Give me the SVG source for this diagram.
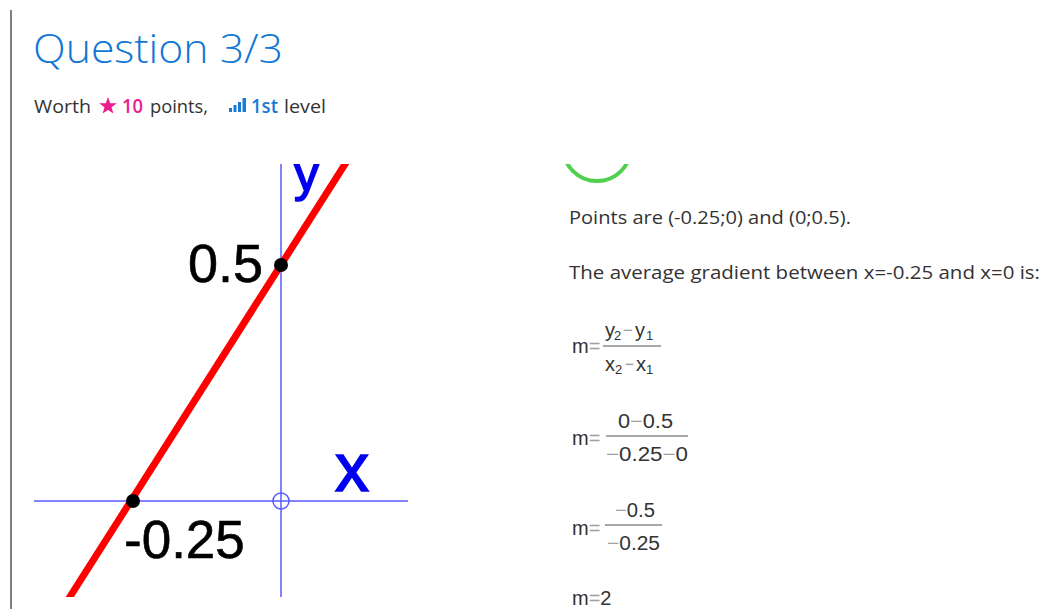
<svg xmlns="http://www.w3.org/2000/svg" width="1047" height="609" viewBox="0 0 1047 609">
<style>
.ui{font-family:"Open Sans","Noto Sans","Liberation Sans",sans-serif;}
.body{font-size:18px;fill:#333333;}
.math{font-family:"Liberation Sans",Arial,sans-serif;font-size:20px;fill:#333333;}
.sub{font-size:13px;}
.op{fill:#a0a0a0;}
.bar{stroke:#8a8a8a;stroke-width:1.6;}
.axis{stroke:#5a5aff;stroke-width:1.5;fill:none;}
.lbl{font-family:"Liberation Sans",Arial,sans-serif;fill:#000000;stroke:#000000;stroke-width:0.6;}
.axlbl{font-family:"Liberation Sans",Arial,sans-serif;fill:#0000ee;stroke:#0000ee;stroke-width:1.6;}
</style>
<defs>
<clipPath id="clipTop"><rect x="0" y="164" width="1047" height="433"/></clipPath>
</defs>
<rect width="1047" height="609" fill="#ffffff"/>
<line x1="11" y1="10" x2="11" y2="609" stroke="#555555" stroke-width="1.5"/>

<g id="header">
<text class="ui" x="33" y="63" font-size="40" font-weight="300" fill="#1177d3" textLength="250" lengthAdjust="spacingAndGlyphs">Question 3/3</text>
<text class="ui body" x="34" y="113" font-size="19" textLength="57" lengthAdjust="spacingAndGlyphs">Worth</text>
<polygon points="108,97 110.2,103.2 116.8,103.3 111.5,107.3 113.4,113.6 108,109.9 102.6,113.6 104.5,107.3 99.2,103.3 105.8,103.2" fill="#ec1c8e"/>
<text class="ui" x="122" y="113" font-size="19" font-weight="600" fill="#ec1c8e" textLength="21" lengthAdjust="spacingAndGlyphs">10</text>
<text class="ui body" x="150" y="113" font-size="19" textLength="58" lengthAdjust="spacingAndGlyphs">points,</text>
<g fill="#1a7bd6">
<rect x="229" y="108" width="3" height="4"/>
<rect x="233.5" y="105" width="3" height="7"/>
<rect x="238" y="102" width="3" height="10"/>
<rect x="242.5" y="98" width="3.5" height="14"/>
</g>
<text class="ui" x="251" y="113" font-size="19" font-weight="600" fill="#1a7bd6" textLength="27" lengthAdjust="spacingAndGlyphs">1st</text>
<text class="ui body" x="284" y="113" font-size="19" textLength="42" lengthAdjust="spacingAndGlyphs">level</text>
</g>

<g id="graph" clip-path="url(#clipTop)">
<line class="axis" x1="34" y1="501" x2="408" y2="501"/>
<line class="axis" x1="281" y1="164" x2="281" y2="597"/>
<circle class="axis" cx="281" cy="501" r="8"/>
<line x1="66" y1="603" x2="347" y2="161" stroke="#ff0000" stroke-width="7"/>
<circle id="pt-y" cx="281" cy="265" r="7" fill="#000000"/>
<circle id="pt-x" cx="133" cy="501" r="7" fill="#000000"/>
<text class="lbl" x="188" y="282" font-size="54">0.5</text>
<text class="lbl" x="124" y="558" font-size="53">-0.25</text>
<text class="axlbl" x="335" y="491" font-size="68">x</text>
<text class="axlbl" x="294" y="191" font-size="50">y</text>
</g>

<g id="check" clip-path="url(#clipTop)">
<circle cx="597" cy="147" r="34" fill="none" stroke="#4fd14f" stroke-width="4"/>
</g>

<g id="solution">
<text class="ui body" x="569" y="224" textLength="282" lengthAdjust="spacingAndGlyphs">Points are (-0.25;0) and (0;0.5).</text>
<text class="ui body" x="569" y="279" textLength="471" lengthAdjust="spacingAndGlyphs">The average gradient between x=-0.25 and x=0 is:</text>

<g id="frac1" class="math">
<text x="572" y="353">m<tspan class="op">=</tspan></text>
<text x="605" y="337">y</text><text class="sub" x="614" y="340">2</text><text class="op" x="623" y="337" textLength="10" lengthAdjust="spacingAndGlyphs">−</text><text x="635" y="337">y</text><text class="sub" x="646" y="340">1</text>
<line class="bar" x1="603" y1="346" x2="661" y2="346"/>
<text x="605" y="371">x</text><text class="sub" x="615" y="374">2</text><text class="op" x="625" y="371" textLength="9" lengthAdjust="spacingAndGlyphs">−</text><text x="636" y="371">x</text><text class="sub" x="646" y="374">1</text>
</g>

<g id="frac2" class="math">
<text x="572" y="445">m<tspan class="op">=</tspan></text>
<text x="618" y="428" textLength="55" lengthAdjust="spacingAndGlyphs">0<tspan class="op">−</tspan>0.5</text>
<line class="bar" x1="606" y1="436" x2="688" y2="436"/>
<text x="606" y="461" textLength="82" lengthAdjust="spacingAndGlyphs"><tspan class="op">−</tspan>0.25<tspan class="op">−</tspan>0</text>
</g>

<g id="frac3" class="math">
<text x="572" y="535">m<tspan class="op">=</tspan></text>
<text x="615" y="517" textLength="40" lengthAdjust="spacingAndGlyphs"><tspan class="op">−</tspan>0.5</text>
<line class="bar" x1="605" y1="525" x2="662" y2="525"/>
<text x="607" y="550" textLength="53" lengthAdjust="spacingAndGlyphs"><tspan class="op">−</tspan>0.25</text>
</g>

<g id="result" class="math">
<text x="572" y="605">m<tspan class="op">=</tspan>2</text>
</g>
</g>
</svg>
